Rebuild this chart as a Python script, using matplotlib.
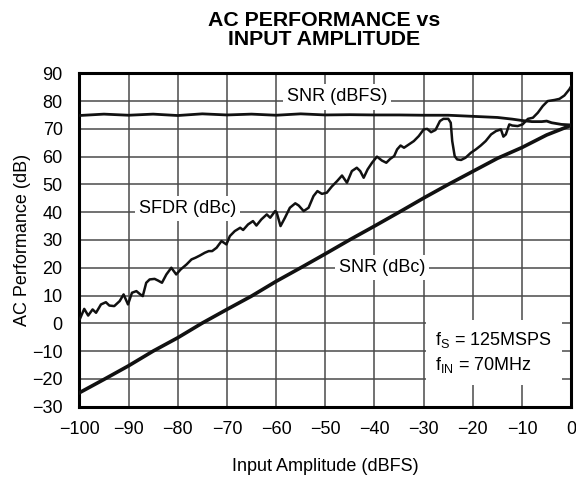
import matplotlib
matplotlib.use("Agg")
import matplotlib.pyplot as plt

# 入力振幅 (dBFS)
snr_fs_x = [-100, -95, -90, -85, -80, -75, -70, -65, -60, -55, -50, -45, -40, -35, -30,
            -25, -20, -15, -12, -10, -8, -6, -5, -4, -2, 0]
snr_fs = [74.8, 75.3, 74.9, 75.3, 74.8, 75.4, 75.0, 75.3, 74.9, 75.4, 75.0, 75.1, 75.0, 75.0, 74.9,
          74.9, 74.5, 74.1, 73.5, 73.0, 72.6, 72.6, 72.8, 72.2, 71.6, 71.4]

snr_dbc_x = [-100, -95, -90, -85, -80, -75, -70, -65, -60, -55, -50, -45, -40, -35, -30,
             -25, -20, -15, -10, -5, 0]
snr_dbc = [-25.0, -20.2, -15.3, -10.0, -5.2, 0.1, 5.0, 9.8, 15.1, 20.0, 25.0, 30.1, 35.0, 40.0, 45.1,
           50.0, 54.7, 59.4, 63.3, 67.8, 71.3]

sfdr_x = [-99.9, -99.0, -98.2, -97.3, -96.6, -95.6, -94.6, -93.9, -92.9, -91.8,
          -91.0, -90.1, -89.3, -88.4, -87.6, -87.1, -86.4, -85.7, -84.7, -84.0,
          -83.2, -82.3, -81.3, -80.3, -79.4, -78.2, -77.2, -76.4, -75.5, -74.5,
          -73.7, -73.0, -72.1, -71.1, -70.1, -69.4, -68.4, -67.3, -66.7, -65.7,
          -64.7, -64.0, -63.0, -61.9, -61.2, -60.2, -59.9, -59.1, -58.2, -57.2,
          -56.1, -55.4, -54.4, -53.4, -52.4, -51.6, -50.7, -49.7, -48.7, -47.6,
          -46.6, -45.6, -44.6, -43.6, -42.9, -42.2, -41.4, -40.5, -39.5, -38.5,
          -37.6, -36.8, -36.0, -35.4, -34.7, -34.0, -33.0, -32.0, -31.0, -30.0,
          -29.3, -28.5, -27.6, -26.7, -26.0, -25.0, -24.5, -24.2, -23.7, -23.2,
          -22.4, -21.5, -20.4, -19.4, -18.4, -17.4, -16.3, -15.3, -14.3, -13.8,
          -13.3, -12.6, -12.0, -10.9, -9.9, -8.8, -7.8, -6.8, -5.8, -4.8,
          -3.4, -2.4, -1.4, -0.4, 0.0]
sfdr = [1.5, 5.2, 2.8, 5.0, 3.8, 6.8, 7.6, 6.4, 6.2, 8.0,
        10.4, 6.8, 11.0, 11.6, 10.4, 9.8, 14.6, 15.8, 16.0, 15.4,
        14.6, 17.6, 20.0, 17.6, 19.4, 21.2, 23.0, 23.6, 24.4, 25.4,
        26.0, 26.0, 27.2, 29.6, 28.4, 31.4, 33.2, 34.4, 33.6, 35.6,
        36.8, 35.2, 37.4, 39.2, 38.0, 40.4, 40.0, 35.0, 38.0, 41.6,
        43.2, 42.4, 40.4, 41.6, 45.8, 47.6, 46.6, 47.0, 49.2, 51.2,
        53.2, 50.6, 54.8, 56.0, 54.8, 52.4, 55.4, 57.8, 60.0, 58.6,
        57.8, 59.2, 60.2, 62.6, 64.0, 63.2, 64.4, 65.6, 67.4, 69.8,
        70.0, 68.8, 69.6, 72.8, 73.6, 73.6, 72.2, 65.6, 60.2, 59.0,
        58.8, 59.6, 61.4, 62.6, 64.0, 65.6, 68.0, 69.2, 69.8, 67.2,
        68.0, 71.6, 71.2, 71.0, 71.6, 73.6, 74.0, 75.8, 78.2, 80.0,
        80.4, 80.8, 82.0, 84.2, 85.4]

x_ticks = list(range(-100, 1, 10))
y_ticks = list(range(-30, 91, 10))

plt.rcParams["font.family"] = ["Liberation Sans", "DejaVu Sans"]
plt.rcParams["mathtext.default"] = "regular"

fig = plt.figure(figsize=(5.76, 4.79), dpi=100)
ax = fig.add_axes([0.1377, 0.151, 0.8541, 0.696])

# 曲線
ax.plot(snr_fs_x, snr_fs, color="#111111", lw=2.0, zorder=3)
ax.plot(sfdr_x, sfdr, color="#111111", lw=1.8, zorder=3)
ax.plot(snr_dbc_x, snr_dbc, color="#111111", lw=2.6, zorder=3)

ax.set_xlim(-100, 0)
ax.set_ylim(-30, 90)
ax.set_xticks(x_ticks)
ax.set_yticks(y_ticks)
ax.grid(True, color="#4a4a4a", lw=1.1)
ax.tick_params(length=0, labelsize=13)
ax.tick_params(axis="x", pad=10)
ax.tick_params(axis="y", pad=12)
for s in ax.spines.values():
    s.set_linewidth(2.2)

ax.set_xlabel("Input Amplitude (dBFS)", fontsize=13, labelpad=15)
ax.set_ylabel("AC Performance (dB)", fontsize=13, labelpad=1)

fig.text(0.5625, 1 - 11 / 479, "AC PERFORMANCE vs\nINPUT AMPLITUDE",
         ha="center", va="top", fontsize=15.3, fontweight="bold", linespacing=1.0)

# ラベル（白背景）
box = dict(facecolor="white", edgecolor="none", pad=3)
ax.text(-47.6, 81.5, "SNR (dBFS)", fontsize=13, ha="center", va="center", bbox=box, zorder=4)
ax.text(-78.0, 41.3, "SFDR (dBc)", fontsize=13, ha="center", va="center", bbox=box, zorder=4)
ax.text(-38.5, 20.0, "SNR (dBc)", fontsize=13, ha="center", va="center", bbox=box, zorder=4)
ax.text(-27.6, -10.5, "f$_S$ = 125MSPS\nf$_{IN}$ = 70MHz", fontsize=13, ha="left", va="center",
        linespacing=1.35, bbox=dict(facecolor="white", edgecolor="none", pad=7), zorder=4)

fig.savefig("out.png", dpi=100)
